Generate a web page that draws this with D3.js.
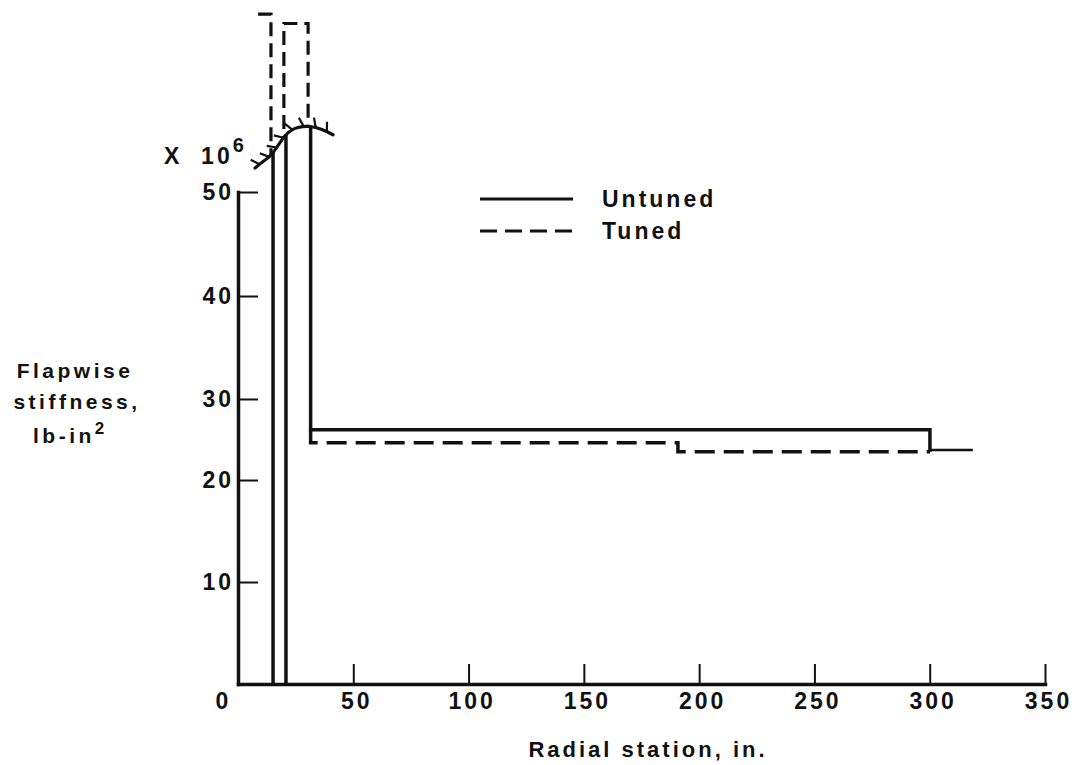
<!DOCTYPE html>
<html>
<head>
<meta charset="utf-8">
<script src="https://cdn.jsdelivr.net/npm/d3@7"></script>
<style>
  body { margin: 0; background: #fff; }
  svg { display: block; }
  text { font-family: "Liberation Sans", Arial, sans-serif; font-weight: bold; fill: #111; }
</style>
</head>
<body>
<svg id="chart" width="1077" height="765"></svg>
<script>
// ---- Data: radial station (in.) vs flapwise stiffness (x 10^6 lb-in^2) ----
const xTickValues = [50, 100, 150, 200, 250, 300, 350];
const yTickValues = [10, 20, 30, 40, 50];
const seriesNames = ["Untuned", "Tuned"];

// Root fitting walls of both blades, rising from zero past the axis break
const rootWallStations = [15.2, 20.8];

// Untuned blade: off scale inboard of sta 31.5, then a long constant section
const untunedStations  = [31.5, 31.5, 300.1, 300.1];
const untunedStiffness = [70.0, 26.2, 26.2, 23.5];
// Common tip section outboard of sta 300
const tipStations  = [300.1, 318.7];
const tipStiffness = [23.7, 23.7];

// Tuned blade, off-scale root pieces shown above the break
const tunedInnerStations  = [8.7, 14.3, 14.3];
const tunedInnerStiffness = [67.1, 67.1, 50.0];
const tunedMidStations    = [19.9, 19.9, 30.4, 30.4];
const tunedMidStiffness   = [50.0, 66.2, 66.2, 50.0];
// Tuned blade outboard of the root
const tunedStations  = [31.5, 31.5, 190.8, 190.8, 300.1];
const tunedStiffness = [26.2, 24.6, 24.6, 23.5, 23.5];

// Scale break drawn across the root walls
const breakStations  = [7.4, 11.3, 15.2, 20.8, 26.0, 31.2, 36.4, 41.2];
const breakStiffness = [52.3, 53.0, 53.8, 55.5, 56.2, 56.3, 56.0, 55.5];

// ---- Layout ----
const svg = d3.select("#chart");
const W = 1077, H = 765;
const plot = { left: 238, right: 1045, top: 192, bottom: 684 };
const plotH = plot.bottom - plot.top;
// the stiffness axis is ruled unevenly; stops give each labelled value's height fraction
const yStops = [0, 0.2073, 0.4146, 0.5793, 0.7886, 1.0];

const x = d3.scaleLinear().domain([0, 350]).range([plot.left, plot.right]);
const y = d3.scaleLinear()
  .domain([0, 10, 20, 30, 40, 50])
  .range(yStops.map(f => plot.bottom - f * plotH));

const ink = "#111";
const dash = "20 9";

// ---- Axes ----
const xAxis = d3.axisBottom(x).tickValues(xTickValues).tickSize(-20).tickSizeOuter(0).tickPadding(9);
const gx = svg.append("g").attr("transform", `translate(0,${plot.bottom})`).call(xAxis);
const yAxis = d3.axisLeft(y).tickValues(yTickValues).tickSize(-20).tickSizeOuter(0).tickPadding(4);
const gy = svg.append("g").attr("transform", `translate(${plot.left},0)`).call(yAxis);

[gx, gy].forEach(g => {
  g.attr("font-family", null).attr("font-size", null);
  g.select(".domain").attr("stroke", ink).attr("stroke-width", 3.5).attr("stroke-linecap", "square");
  g.selectAll(".tick line").attr("stroke", ink).attr("stroke-width", 2);
  g.selectAll(".tick text").attr("fill", ink).style("font-size", "23px").style("letter-spacing", "3px");
});
gx.selectAll(".tick text").attr("dx", 3);

// origin label
svg.append("text")
  .attr("x", x(0) - 16).attr("y", plot.bottom + 9).attr("dy", "0.71em")
  .attr("text-anchor", "middle")
  .style("font-size", "23px")
  .text("0");

// axis multiplier
const mult = svg.append("text").attr("x", 164).attr("y", 164).style("font-size", "23px").style("letter-spacing", "3px");
mult.append("tspan").text("X\u00a0\u00a010");
mult.append("tspan").attr("dy", -12).style("font-size", "20px").text("6");

// y title
const yTitle = svg.append("text").attr("text-anchor", "middle").style("font-size", "21px").style("letter-spacing", "3.5px");
yTitle.append("tspan").attr("x", 75).attr("y", 378).text("Flapwise");
yTitle.append("tspan").attr("x", 77).attr("y", 409).text("stiffness,");
const unit = svg.append("text").attr("x", 33).attr("y", 443).style("font-size", "21px").style("letter-spacing", "3.5px");
unit.append("tspan").text("lb-in");
unit.append("tspan").attr("dy", -9).style("font-size", "17px").text("2");

// x title
svg.append("text")
  .attr("x", 648).attr("y", 757)
  .attr("text-anchor", "middle")
  .style("font-size", "22px").style("letter-spacing", "3px")
  .text("Radial station, in.");

// ---- Scale break and clip regions ----
const breakPts = breakStations.map((s, i) => [x(s), y(breakStiffness[i])]);
const breakLine = d3.line().curve(d3.curveNatural);
const defs = svg.append("defs");
const below = defs.append("clipPath").attr("id", "belowBreak");
below.append("path").attr("d", d3.area().curve(d3.curveNatural).x(d => d[0]).y0(H).y1(d => d[1])(breakPts));
below.append("rect").attr("x", 0).attr("y", d3.max(breakPts, d => d[1]) + 1).attr("width", W).attr("height", H);
const above = defs.append("clipPath").attr("id", "aboveBreak");
above.append("path").attr("d", d3.area().curve(d3.curveNatural).x(d => d[0]).y0(0).y1(d => d[1])(breakPts));

const line = d3.line().x(d => x(d[0])).y(d => y(d[1]));
const zip = (a, b) => a.map((v, i) => [v, b[i]]);

// ---- Untuned (solid) ----
const gSolid = svg.append("g").attr("clip-path", "url(#belowBreak)")
  .attr("fill", "none").attr("stroke", ink).attr("stroke-width", 3.5).attr("stroke-linejoin", "miter");
rootWallStations.forEach(s => {
  gSolid.append("path").attr("d", line([[s, 0], [s, 70]]));
});
gSolid.append("path").attr("d", line(zip(untunedStations, untunedStiffness)));

svg.append("path").attr("d", line(zip(tipStations, tipStiffness)))
  .attr("fill", "none").attr("stroke", ink).attr("stroke-width", 2.5);

// ---- Tuned (dashed) ----
const gDashAbove = svg.append("g").attr("clip-path", "url(#aboveBreak)")
  .attr("fill", "none").attr("stroke", ink).attr("stroke-width", 3.2).attr("stroke-dasharray", "14 7");
gDashAbove.append("path").attr("d", line(zip(tunedInnerStations, tunedInnerStiffness)));
gDashAbove.append("path").attr("d", line(zip(tunedMidStations, tunedMidStiffness)));

svg.append("path").attr("d", line(zip(tunedStations, tunedStiffness)))
  .attr("fill", "none").attr("stroke", ink).attr("stroke-width", 3.5).attr("stroke-dasharray", dash);

// ---- Break line with hatching ----
const breakPath = svg.append("path").attr("d", breakLine(breakPts))
  .attr("fill", "none").attr("stroke", ink).attr("stroke-width", 3.2).attr("stroke-linecap", "round");
const node = breakPath.node();
const L = node.getTotalLength();
const tilt = -25 * Math.PI / 180;
for (let s = 6; s < L - 2; s += 12) {
  const p = node.getPointAtLength(s);
  const q = node.getPointAtLength(Math.min(L, s + 1));
  let tx = q.x - p.x, ty = q.y - p.y;
  const n = Math.hypot(tx, ty) || 1; tx /= n; ty /= n;
  const nx = ty, ny = -tx;
  const dx = nx * Math.cos(tilt) - ny * Math.sin(tilt);
  const dy = nx * Math.sin(tilt) + ny * Math.cos(tilt);
  svg.append("line")
    .attr("x1", p.x).attr("y1", p.y).attr("x2", p.x + dx * 10).attr("y2", p.y + dy * 10)
    .attr("stroke", ink).attr("stroke-width", 2.2);
}

// ---- Legend ----
const legend = svg.append("g");
seriesNames.forEach((name, i) => {
  const yy = 199 + i * 32;
  legend.append("line")
    .attr("x1", 480).attr("x2", 573).attr("y1", yy).attr("y2", yy)
    .attr("stroke", ink).attr("stroke-width", 3)
    .attr("stroke-dasharray", i === 0 ? null : "17 8");
  legend.append("text")
    .attr("x", 602).attr("y", yy + 8)
    .style("font-size", "23px").style("letter-spacing", "3px")
    .text(name);
});
</script>
</body>
</html>
